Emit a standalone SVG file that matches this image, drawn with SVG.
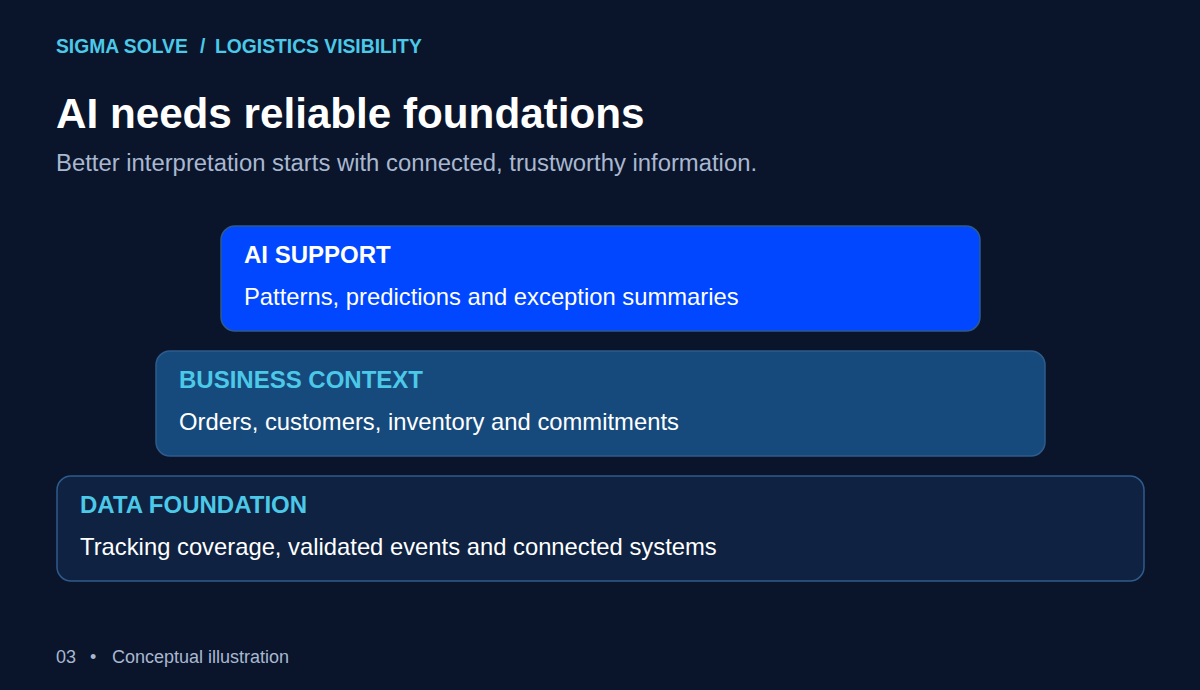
<svg xmlns="http://www.w3.org/2000/svg" width="1200" height="690" viewBox="0 0 1200 690">
<style>
text{font-family:"Liberation Sans",Arial,sans-serif}
.kick{font-size:19.3px;font-weight:bold;fill:#4cc9e8}
.title{font-size:42.2px;font-weight:bold;fill:#ffffff}
.sub{font-size:23.85px;fill:#a9b8d0}
.lt{font-size:24px;font-weight:bold;fill:#4cc9e8}
.lb{font-size:23.8px;fill:#ffffff}
.foot{font-size:18px;fill:#a9b8d0}
.box{stroke:#2f5b8c;stroke-width:1.5}
</style>
<rect width="1200" height="690" fill="#0a152b"/>
<text class="kick" x="56" y="53">SIGMA SOLVE</text>
<text class="kick" x="200" y="53">/</text>
<text class="kick" x="215" y="53">LOGISTICS VISIBILITY</text>
<text class="title" x="56" y="128">AI needs reliable foundations</text>
<text class="sub" x="56" y="171">Better interpretation starts with connected, trustworthy information.</text>
<g id="ai-support">
<rect class="box" x="221" y="226" width="759" height="105" rx="14" fill="#0047ff"/>
<text class="lt" x="244" y="263" style="fill:#ffffff">AI SUPPORT</text>
<text class="lb" x="244" y="305">Patterns, predictions and exception summaries</text>
</g>
<g id="business-context">
<rect class="box" x="156" y="351" width="889" height="105" rx="14" fill="#174a7c"/>
<text class="lt" x="179" y="388">BUSINESS CONTEXT</text>
<text class="lb" x="179" y="430">Orders, customers, inventory and commitments</text>
</g>
<g id="data-foundation">
<rect class="box" x="57" y="476" width="1087" height="105" rx="14" fill="#0f2241"/>
<text class="lt" x="80" y="513">DATA FOUNDATION</text>
<text class="lb" x="80" y="555">Tracking coverage, validated events and connected systems</text>
</g>
<g id="connectors"></g>
<text class="foot" x="56" y="663">03</text>
<text class="foot" x="90" y="663">•</text>
<text class="foot" x="112" y="663">Conceptual illustration</text>
</svg>
